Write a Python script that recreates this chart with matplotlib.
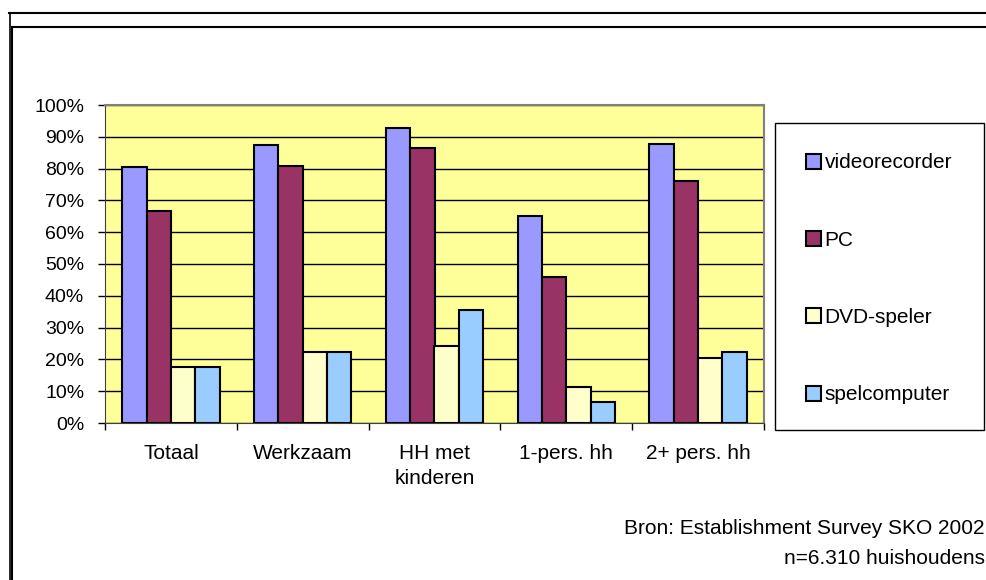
import numpy as np
import matplotlib
matplotlib.use('Agg')
import matplotlib.pyplot as plt
from matplotlib.patches import Rectangle
from matplotlib.lines import Line2D

plt.rcParams['font.family'] = ['Liberation Sans', 'DejaVu Sans']

categories = ['Totaal', 'Werkzaam', 'HH met\nkinderen', '1-pers. hh', '2+ pers. hh']
series_names = ['videorecorder', 'PC', 'DVD-speler', 'spelcomputer']
videorecorder = [80.5, 87.3, 92.8, 65.0, 87.7]
pc = [66.7, 80.8, 86.6, 46.0, 76.2]
dvd_speler = [17.5, 22.3, 24.2, 11.2, 20.4]
spelcomputer = [17.5, 22.3, 35.5, 6.6, 22.3]
yticks = [0, 10, 20, 30, 40, 50, 60, 70, 80, 90, 100]
ytick_labels = ['0%', '10%', '20%', '30%', '40%', '50%', '60%', '70%', '80%', '90%', '100%']

colors = ['#9999FF', '#993366', '#FFFFCC', '#99CCFF']
W, H = 987, 580

fig = plt.figure(figsize=(W / 100, H / 100), dpi=100)

# frame around the figure (word-style double border)
fig.add_artist(Line2D([9 / W, 1.01], [1 - 12.5 / H] * 2, color='black', lw=1.5, transform=fig.transFigure))
fig.add_artist(Line2D([12 / W, 1.01], [1 - 26.5 / H] * 2, color='black', lw=1.5, transform=fig.transFigure))
fig.add_artist(Line2D([9.5 / W] * 2, [1 - 12.5 / H, -0.01], color='black', lw=1.2, transform=fig.transFigure))
fig.add_artist(Line2D([11.5 / W] * 2, [1 - 26.5 / H, -0.01], color='black', lw=1.5, transform=fig.transFigure))

ax = fig.add_axes([105 / W, 1 - 423 / H, (764 - 105) / W, (423 - 105) / H])
ax.set_facecolor('#FFFF99')

x = np.arange(len(categories))
w = 0.185
all_series = [videorecorder, pc, dvd_speler, spelcomputer]
for i, (vals, name) in enumerate(zip(all_series, series_names)):
    ax.bar(x + (i - 1.5) * w, vals, w, color=colors[i], edgecolor='black',
           linewidth=1.5, label=name, zorder=3)

ax.set_ylim(0, 100)
ax.set_xlim(-0.5, len(categories) - 0.5)
ax.set_yticks(yticks)
ax.set_yticklabels(ytick_labels)
ax.yaxis.grid(True, color='black', linewidth=1.0, zorder=1)
ax.set_axisbelow(True)

ax.set_xticks(x)
ax.set_xticklabels(categories, linespacing=1.4)
ax.set_xticks(np.arange(len(categories) + 1) - 0.5, minor=True)
ax.tick_params(axis='x', which='major', length=0, pad=15, labelsize=15)
ax.tick_params(axis='x', which='minor', length=5, width=1, direction='out')
ax.tick_params(axis='y', length=5, width=1, direction='out', pad=10, labelsize=14)

for side in ['top', 'right']:
    ax.spines[side].set_color('#808080')
    ax.spines[side].set_linewidth(1.5)
ax.spines['left'].set_color('#404040')
ax.spines['bottom'].set_color('#404040')

# legend box
fig.add_artist(Rectangle((775 / W, 1 - 430 / H), (984 - 775) / W, (430 - 123) / H,
                         transform=fig.transFigure, facecolor='white', edgecolor='black', lw=1))
leg = fig.legend(loc='upper left', bbox_to_anchor=(796 / W, 1 - 143 / H), frameon=False,
                 fontsize=15, labelspacing=2.8, handlelength=0.72, handleheight=0.72,
                 handletextpad=0.15, borderpad=0)

fig.text(985 / W, 1 - 528 / H, 'Bron: Establishment Survey SKO 2002', ha='right', va='center', fontsize=15)
fig.text(985 / W, 1 - 558 / H, 'n=6.310 huishoudens', ha='right', va='center', fontsize=15)

fig.savefig('out.png', dpi=100)
